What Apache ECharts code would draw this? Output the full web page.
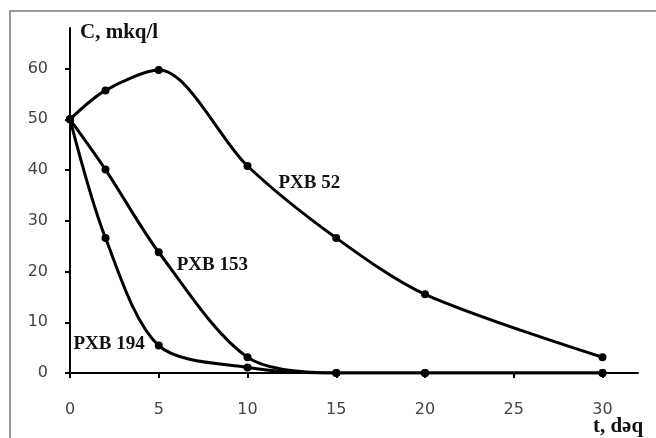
<!DOCTYPE html>
<html>
<head>
<meta charset="utf-8">
<script src="https://cdn.jsdelivr.net/npm/echarts@6/dist/echarts.min.js"></script>
<style>
  html, body { margin: 0; padding: 0; background: #fff; }
  #main { width: 656px; height: 438px; }
</style>
</head>
<body>
<div id="main"></div>
<script>
// vaxt, dəq
var timeVals = [0, 2, 5, 10, 15, 20, 30];
// konsentrasiya, mkq/l
var pxb52 = [50, 55.7, 59.7, 40.8, 26.6, 15.5, 3.1];
var pxb153 = [50, 40.1, 23.8, 3.1, 0, 0, 0];
var pxb194 = [50, 26.6, 5.4, 1.1, 0, 0, 0];
var xTicks = [0, 5, 10, 15, 20, 25, 30];
var yTicks = [0, 10, 20, 30, 40, 50, 60];

var seriesNames = ['PXB 52', 'PXB 153', 'PXB 194'];
var labelIndex = [3, 2, 2];

var myChart = echarts.init(document.getElementById('main'));

var serifFont = 'Liberation Serif';

var labelFont = {
    fontFamily: serifFont,
    fontWeight: 'bold',
    fontSize: 19,
    color: '#111'
};

function makeData(vals, idx, lbl) {
    return vals.map(function (v, i) {
        var item = {value: [timeVals[i], v]};
        if (i === idx) {
            item.label = Object.assign({show: true, formatter: lbl.text}, labelFont, lbl.style);
        }
        return item;
    });
}

var labelStyles = [
    {position: 'right', distance: 27, offset: [0, 17]},
    {position: 'right', distance: 14, offset: [0, 13]},
    {position: 'left', distance: 10, offset: [0, -2]}
];

var allVals = [pxb52, pxb153, pxb194];
var series = allVals.map(function (vals, k) {
    return {
        name: seriesNames[k],
        type: 'line',
        smooth: 0.3,
        symbol: 'circle',
        symbolSize: 8,
        lineStyle: {color: '#000', width: 3},
        itemStyle: {color: '#000'},
        z: 3 - k,
        data: makeData(vals, labelIndex[k], {text: seriesNames[k], style: labelStyles[k]})
    };
});

var option = {
    animation: false,
    backgroundColor: '#fff',
    graphic: [{
        type: 'rect',
        shape: {x: 10, y: 11, width: 700, height: 500},
        style: {fill: 'none', stroke: '#9a9a9a', lineWidth: 2},
        silent: true
    }],
    grid: {left: 70, right: 18, top: 28, bottom: 65, outerBoundsMode: 'none', containLabel: false},
    xAxis: {
        type: 'value',
        min: 0,
        max: 32,
        name: 't, dəq',
        nameLocation: 'end',
        nameMoveOverlap: false,
        nameGap: -20,
        nameTextStyle: {
            fontFamily: serifFont,
            fontWeight: 'bold',
            fontSize: 21,
            color: '#111',
            align: 'center',
            verticalAlign: 'top',
            padding: [43, 0, 0, 0]
        },
        splitLine: {show: false},
        axisLine: {lineStyle: {color: '#000', width: 2}},
        axisTick: {show: true, length: 5, customValues: xTicks, lineStyle: {color: '#000', width: 2}},
        axisLabel: {
            customValues: xTicks,
            margin: 29,
            fontFamily: 'DejaVu Sans',
            fontSize: 16,
            color: '#444'
        }
    },
    yAxis: {
        type: 'value',
        min: 0,
        max: 68,
        name: 'C, mkq/l',
        nameLocation: 'end',
        nameMoveOverlap: false,
        nameGap: -5,
        nameTextStyle: {
            fontFamily: serifFont,
            fontWeight: 'bold',
            fontSize: 21,
            color: '#111',
            align: 'left',
            verticalAlign: 'middle',
            padding: [0, 0, 0, 10]
        },
        splitLine: {show: false},
        axisLine: {show: true, lineStyle: {color: '#000', width: 2}},
        axisTick: {show: true, length: 5, customValues: yTicks, lineStyle: {color: '#000', width: 2}},
        axisLabel: {
            customValues: yTicks,
            margin: 22,
            fontFamily: 'DejaVu Sans',
            fontSize: 16,
            color: '#444'
        }
    },
    series: series
};

myChart.setOption(option);
</script>
</body>
</html>
